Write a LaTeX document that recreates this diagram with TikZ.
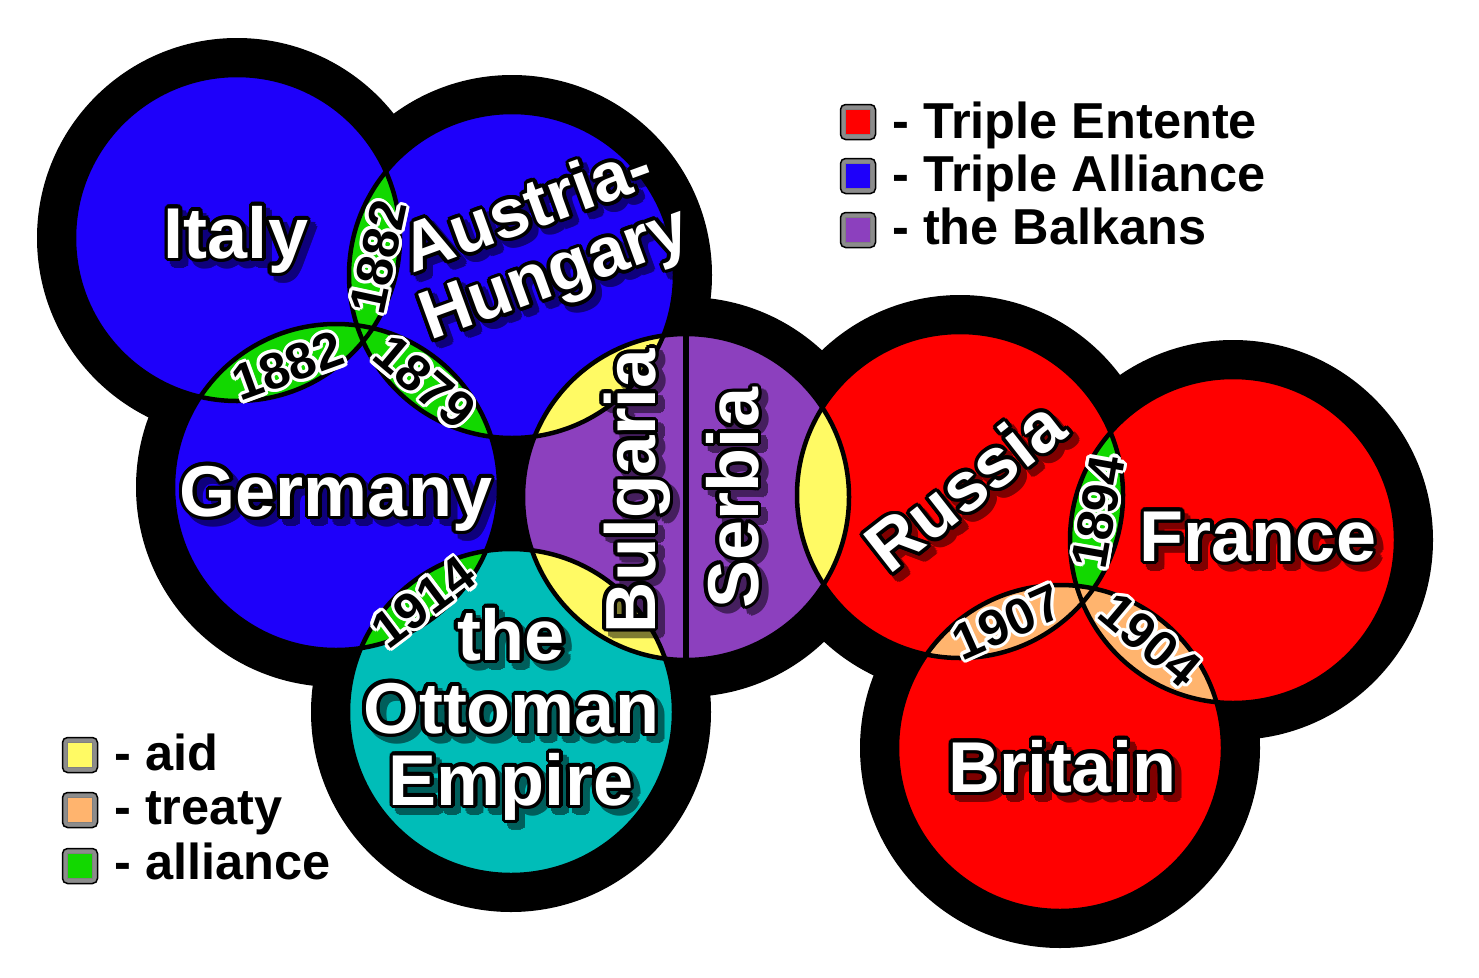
\documentclass[tikz,border=0pt]{standalone}
\usepackage{fontspec}
\setmainfont{Liberation Sans}
\definecolor{cBlue}{RGB}{30,0,250}
\definecolor{cRed}{RGB}{255,0,0}
\definecolor{cPurple}{RGB}{140,64,190}
\definecolor{cTeal}{RGB}{0,189,184}
\definecolor{cYellow}{RGB}{255,250,100}
\definecolor{cOrange}{RGB}{255,180,110}
\definecolor{cGreen}{RGB}{18,216,0}
\newcommand\ringtext[4]{%
  \foreach \olA in {0,#3,...,359}{%
    \pgfmathsetmacro\olX{#1*cos(\olA)}%
    \pgfmathsetmacro\olY{#1*sin(\olA)}%
    \rlap{\hspace*{\olX pt}\raisebox{\olY pt}{\textcolor{#2}{#4}}}}}
\newcommand\lbltxt[1]{\ringtext{3.6}{black}{22.5}{#1}#1}
\newcommand\shdtxt[1]{\ringtext{4}{black}{30}{#1}#1}
\newcommand\yrtxt[1]{\ringtext{3.2}{white}{22.5}{#1}\textcolor{black}{#1}}
\newcommand\labfont{\bfseries\fontsize{72}{72}\selectfont}
\newcommand\bufont{\bfseries\fontsize{71}{71}\selectfont}
\newcommand\ahfont{\bfseries\fontsize{69}{69}\selectfont}
\newcommand\rufont{\bfseries\fontsize{70}{70}\selectfont}
\newcommand\yrfont{\bfseries\fontsize{51}{51}\selectfont}
\newcommand\legfont{\bfseries\fontsize{50.5}{50.5}\selectfont}
\newcommand\lensfill[3]{\begin{scope}\clip (#1) circle[radius=163pt];\fill[#3] (#2) circle[radius=163pt];\end{scope}}
\begin{document}
\begin{tikzpicture}[x=1pt,y=-1pt,
  lab/.style={font=\labfont,text=white,inner sep=0pt},
  labsh/.style={font=\labfont,text=black,inner sep=0pt},
  yr/.style={font=\yrfont,text=black,inner sep=0pt},
  leg/.style={font=\legfont,text=black,inner sep=0pt,anchor=base west},
  sqo/.style={draw=black,line width=1.5pt,fill=black!45,rounded corners=5pt,minimum size=35pt,inner sep=0pt},
  sqi/.style={draw=white!50!black,line width=0.8pt,minimum size=25pt,inner sep=0pt},
  outline/.style={draw=black,line width=4.5pt}]
\useasboundingbox (0,0) rectangle (1479,977);
\fill[white] (0,0) rectangle (1479,977);
\coordinate (It) at (237,238);
\coordinate (AH) at (512,275);
\coordinate (Ge) at (336,487);
\coordinate (Ot) at (511,712);
\coordinate (BS) at (686,497);
\coordinate (Ru) at (960,495);
\coordinate (Fr) at (1233,540);
\coordinate (Br) at (1060,748);
\coordinate (BSt) at (686,334);
\coordinate (BSb) at (686,660);
% black halos
\foreach \c in {It,AH,Ge,Ot,BS,Ru,Fr,Br} \fill[black] (\c) circle[radius=200pt];
% disks
\fill[cBlue] (It) circle[radius=163pt];
\fill[cBlue] (AH) circle[radius=163pt];
\fill[cBlue] (Ge) circle[radius=163pt];
\fill[cTeal] (Ot) circle[radius=163pt];
\fill[cPurple] (BS) circle[radius=163pt];
\fill[cRed] (Ru) circle[radius=163pt];
\fill[cRed] (Fr) circle[radius=163pt];
\fill[cRed] (Br) circle[radius=163pt];
% lenses
\lensfill{It}{AH}{cGreen}
\lensfill{It}{Ge}{cGreen}
\lensfill{AH}{Ge}{cGreen}
\lensfill{Ge}{Ot}{cGreen}
\lensfill{BS}{AH}{cYellow}
\lensfill{BS}{Ot}{cYellow}
\lensfill{BS}{Ru}{cYellow}
\lensfill{Ru}{Fr}{cGreen}
\lensfill{Ru}{Br}{cOrange}
\lensfill{Fr}{Br}{cOrange}
% outlines
\draw[line width=6pt] (BSt) -- (BSb);
\foreach \c in {It,AH,Ge,Ot,BS,Ru,Fr,Br} \draw[outline] (\c) circle[radius=163pt];
% shadows
\begin{scope}[transparency group,opacity=0.5]
\node[labsh,anchor=base] (itS) at (242,264) {\shdtxt{Italy}};
\node[labsh,anchor=base] (geS) at (342,522) {\shdtxt{Germany}};
\node[labsh,font=\ahfont,anchor=base,rotate=20] (auS) at (541,235) {\shdtxt{Austria-}};
\node[labsh,font=\ahfont,anchor=base,rotate=20] (huS) at (568,299) {\shdtxt{Hungary}};
\node[labsh,anchor=base] (thS) at (517,666) {\shdtxt{the}};
\node[labsh,anchor=base] (otS) at (517,739) {\shdtxt{Ottoman}};
\node[labsh,anchor=base] (emS) at (517,811) {\shdtxt{Empire}};
\node[labsh,font=\bufont,anchor=base,rotate=90] (buS) at (661,497) {\shdtxt{Bulgaria}};
\node[labsh,anchor=base,rotate=90] (seS) at (764,504) {\shdtxt{Serbia}};
\node[labsh,font=\rufont,anchor=base,rotate=38] (ruS) at (986,511) {\shdtxt{Russia}};
\node[labsh,anchor=base] (frS) at (1264,567) {\shdtxt{France}};
\node[labsh,anchor=base] (brS) at (1068,798) {\shdtxt{Britain}};
\end{scope}
% labels
\node[lab,anchor=base] (italy) at (236,258) {\lbltxt{Italy}};
\node[lab,anchor=base] (germany) at (336,516) {\lbltxt{Germany}};
\node[lab,font=\ahfont,anchor=base,rotate=20] (austria) at (535,229) {\lbltxt{Austria-}};
\node[lab,font=\ahfont,anchor=base,rotate=20] (hungary) at (562,293) {\lbltxt{Hungary}};
\node[lab,anchor=base] (the) at (511,660) {\lbltxt{the}};
\node[lab,anchor=base] (ottoman) at (511,733) {\lbltxt{Ottoman}};
\node[lab,anchor=base] (empire) at (511,805) {\lbltxt{Empire}};
\node[lab,font=\bufont,anchor=base,rotate=90] (bulgaria) at (655,491) {\lbltxt{Bulgaria}};
\node[lab,anchor=base,rotate=90] (serbia) at (758,498) {\lbltxt{Serbia}};
\node[lab,font=\rufont,anchor=base,rotate=38] (russia) at (980,505) {\lbltxt{Russia}};
\node[lab,anchor=base] (france) at (1258,561) {\lbltxt{France}};
\node[lab,anchor=base] (britain) at (1062,792) {\lbltxt{Britain}};
% years
\node[yr,rotate=78] (y1) at (378,257) {\yrtxt{1882}};
\node[yr,rotate=20] (y2) at (288,366) {\yrtxt{1882}};
\node[yr,rotate=-40] (y3) at (425,382) {\yrtxt{1879}};
\node[yr,rotate=37] (y4) at (423,602) {\yrtxt{1914}};
\node[yr,rotate=80] (y5) at (1098,512) {\yrtxt{1894}};
\node[yr,rotate=24] (y6) at (1007,622) {\yrtxt{1907}};
\node[yr,rotate=-40] (y7) at (1150,640) {\yrtxt{1904}};
% legend top right
\node[sqo] (lgE) at (858,122) {};
\node[sqi,fill=cRed] (lgEi) at (858,122) {};
\node[leg] (lgEt) at (892,138) {- Triple Entente};
\node[sqo] (lgA) at (858,176) {};
\node[sqi,fill=cBlue] (lgAi) at (858,176) {};
\node[leg] (lgAt) at (892,191) {- Triple Alliance};
\node[sqo] (lgB) at (858,230) {};
\node[sqi,fill=cPurple] (lgBi) at (858,230) {};
\node[leg] (lgBt) at (892,244) {- the Balkans};
% legend bottom left
\node[sqo] (lgd) at (80,755) {};
\node[sqi,fill=cYellow] (lgdi) at (80,755) {};
\node[leg] (lgdt) at (114,770) {- aid};
\node[sqo] (lgt) at (80,810) {};
\node[sqi,fill=cOrange] (lgti) at (80,810) {};
\node[leg] (lgtt) at (114,824) {- treaty};
\node[sqo] (lga) at (80,866) {};
\node[sqi,fill=cGreen] (lgai) at (80,866) {};
\node[leg] (lgat) at (114,879) {- alliance};
\end{tikzpicture}
\end{document}
